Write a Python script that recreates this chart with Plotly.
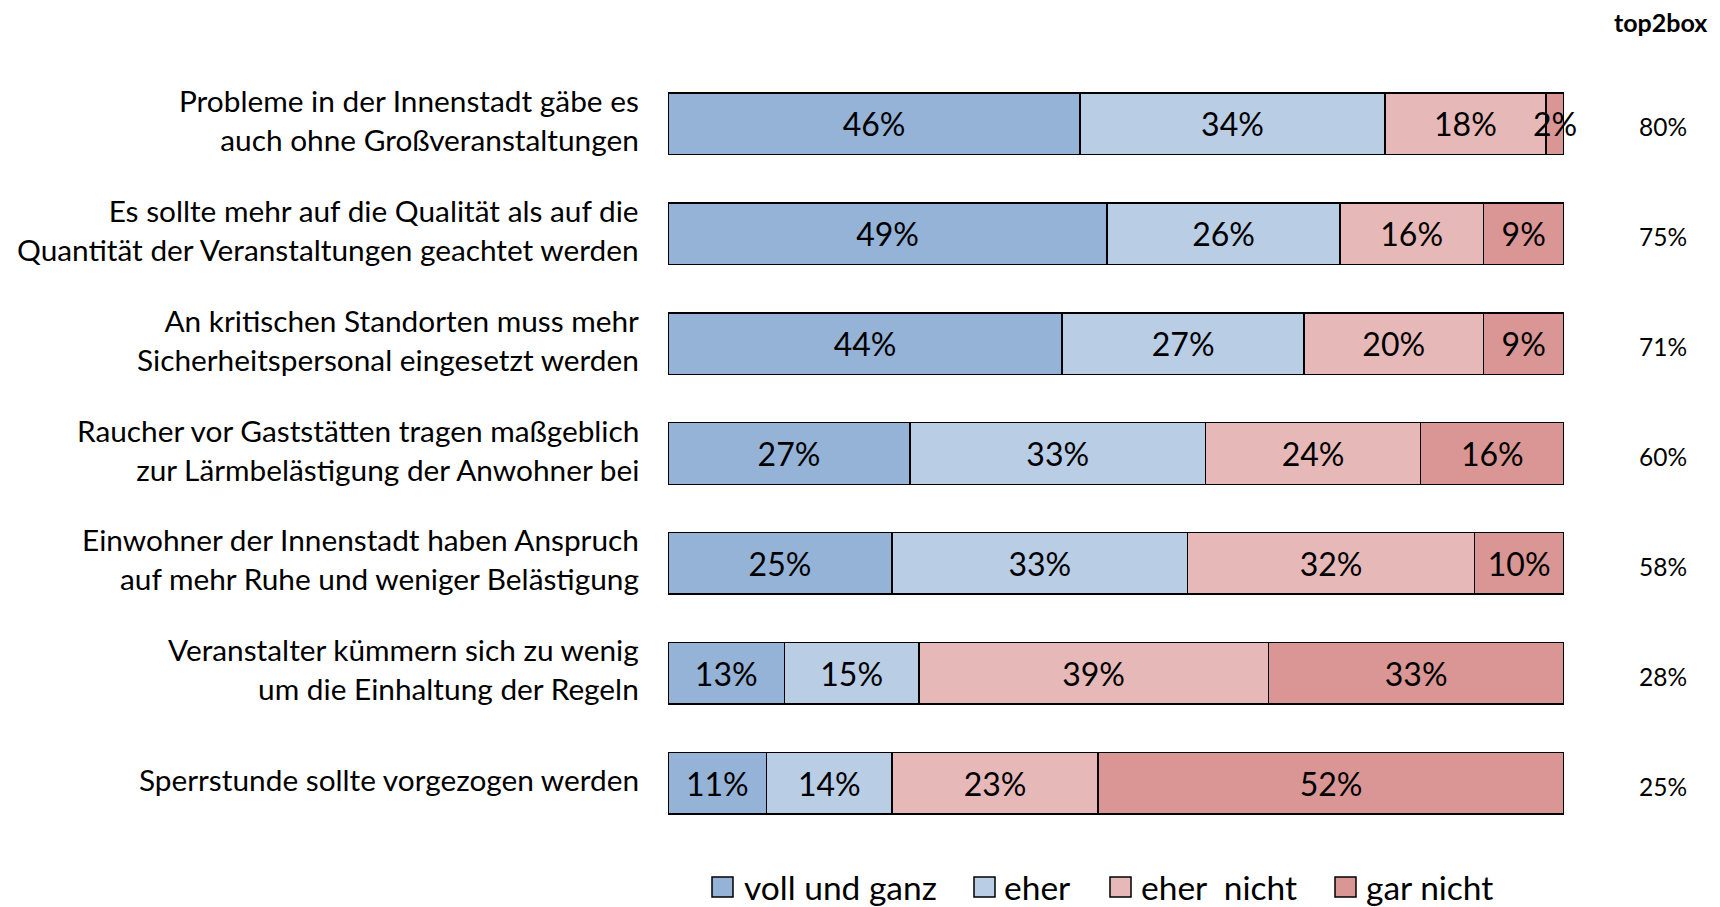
import plotly.graph_objects as go

categories = [
    "Probleme in der Innenstadt gäbe es<br>auch ohne Großveranstaltungen",
    "Es sollte mehr auf die Qualität als auf die<br>Quantität der Veranstaltungen geachtet werden",
    "An kritischen Standorten muss mehr<br>Sicherheitspersonal eingesetzt werden",
    "Raucher vor Gaststätten tragen maßgeblich<br>zur Lärmbelästigung der Anwohner bei",
    "Einwohner der Innenstadt haben Anspruch<br>auf mehr Ruhe und weniger Belästigung",
    "Veranstalter kümmern sich zu wenig<br>um die Einhaltung der Regeln",
    "Sperrstunde sollte vorgezogen werden",
]
voll_und_ganz = [46, 49, 44, 27, 25, 13, 11]
eher = [34, 26, 27, 33, 33, 15, 14]
eher_nicht = [18, 16, 20, 24, 32, 39, 23]
gar_nicht = [2, 9, 9, 16, 10, 33, 52]
top2box = [80, 75, 71, 60, 58, 28, 25]

series_names = ["voll und ganz", "eher", "eher\u00a0 nicht", "gar nicht"]
series_values = [voll_und_ganz, eher, eher_nicht, gar_nicht]
colors = ["#95B3D7", "#B9CDE5", "#E6B9B8", "#D99694"]

FONT = "Lato"
# page body has an 8px margin, so the figure is 8px smaller than the window
W, H = 1712, 899
ML, MR, MT, MB = 660, 156, 61, 69
pw = W - ML - MR
ph = H - MT - MB


def px_x(px):
    return (px - ML) / pw


def px_y(py):
    return (H - MB - py) / ph


fig = go.Figure()
for name, vals, col in zip(series_names, series_values, colors):
    fig.add_trace(go.Bar(
        y=categories, x=vals, name=name, orientation="h",
        marker=dict(color=col, line=dict(color="#000000", width=1.5)),
        text=[f"{v}%" for v in vals], textposition="inside",
        insidetextanchor="middle", textangle=0, cliponaxis=False,
        textfont=dict(family=FONT, size=32, color="#000000"),
        hoverinfo="skip", width=0.56, showlegend=False,
    ))

annotations = []
shapes = []
for cat in categories:
    annotations.append(dict(
        x=0, xref="paper", y=cat, yref="y", text=cat, showarrow=False,
        xanchor="right", align="right", xshift=-27, yshift=4,
        font=dict(family=FONT, size=29.8, color="#000000"),
    ))
tx = px_x(1655)
for cat, v in zip(categories, top2box):
    annotations.append(dict(
        x=tx, xref="paper", y=cat, yref="y", text=f"{v}%", showarrow=False,
        xanchor="center", yshift=-3,
        font=dict(family=FONT, size=24.5, color="#000000"),
    ))
annotations.append(dict(
    x=px_x(1701), xref="paper", y=px_y(14), yref="paper",
    text="<b>top2box</b>", showarrow=False, xanchor="right", yanchor="middle",
    font=dict(family=FONT, size=25, color="#000000"),
))

# legend keys
leg_sq_x = [704, 966, 1102, 1327]
leg_tx_x = [734, 994, 1131, 1356]
leg_y = 879
for name, col, sx, tx_ in zip(series_names, colors, leg_sq_x, leg_tx_x):
    shapes.append(dict(
        type="rect", xref="paper", yref="paper",
        x0=px_x(sx), x1=px_x(sx + 21), y0=px_y(leg_y + 10), y1=px_y(leg_y - 10),
        fillcolor=col, line=dict(color="#000000", width=1.5),
    ))
    annotations.append(dict(
        x=px_x(tx_), xref="paper", y=px_y(leg_y), yref="paper", text=name,
        showarrow=False, xanchor="left", yanchor="middle",
        font=dict(family=FONT, size=33.5, color="#000000"),
    ))

fig.update_layout(
    width=W, height=H, barmode="stack",
    margin=dict(l=ML, r=MR, t=MT, b=MB, autoexpand=False),
    paper_bgcolor="white", plot_bgcolor="white",
    uniformtext=dict(mode="show", minsize=32),
    xaxis=dict(range=[0, 100], visible=False),
    yaxis=dict(autorange="reversed", showticklabels=False, showgrid=False,
               zeroline=False),
    annotations=annotations,
    shapes=shapes,
    showlegend=False,
)
fig.write_html("out.html")
